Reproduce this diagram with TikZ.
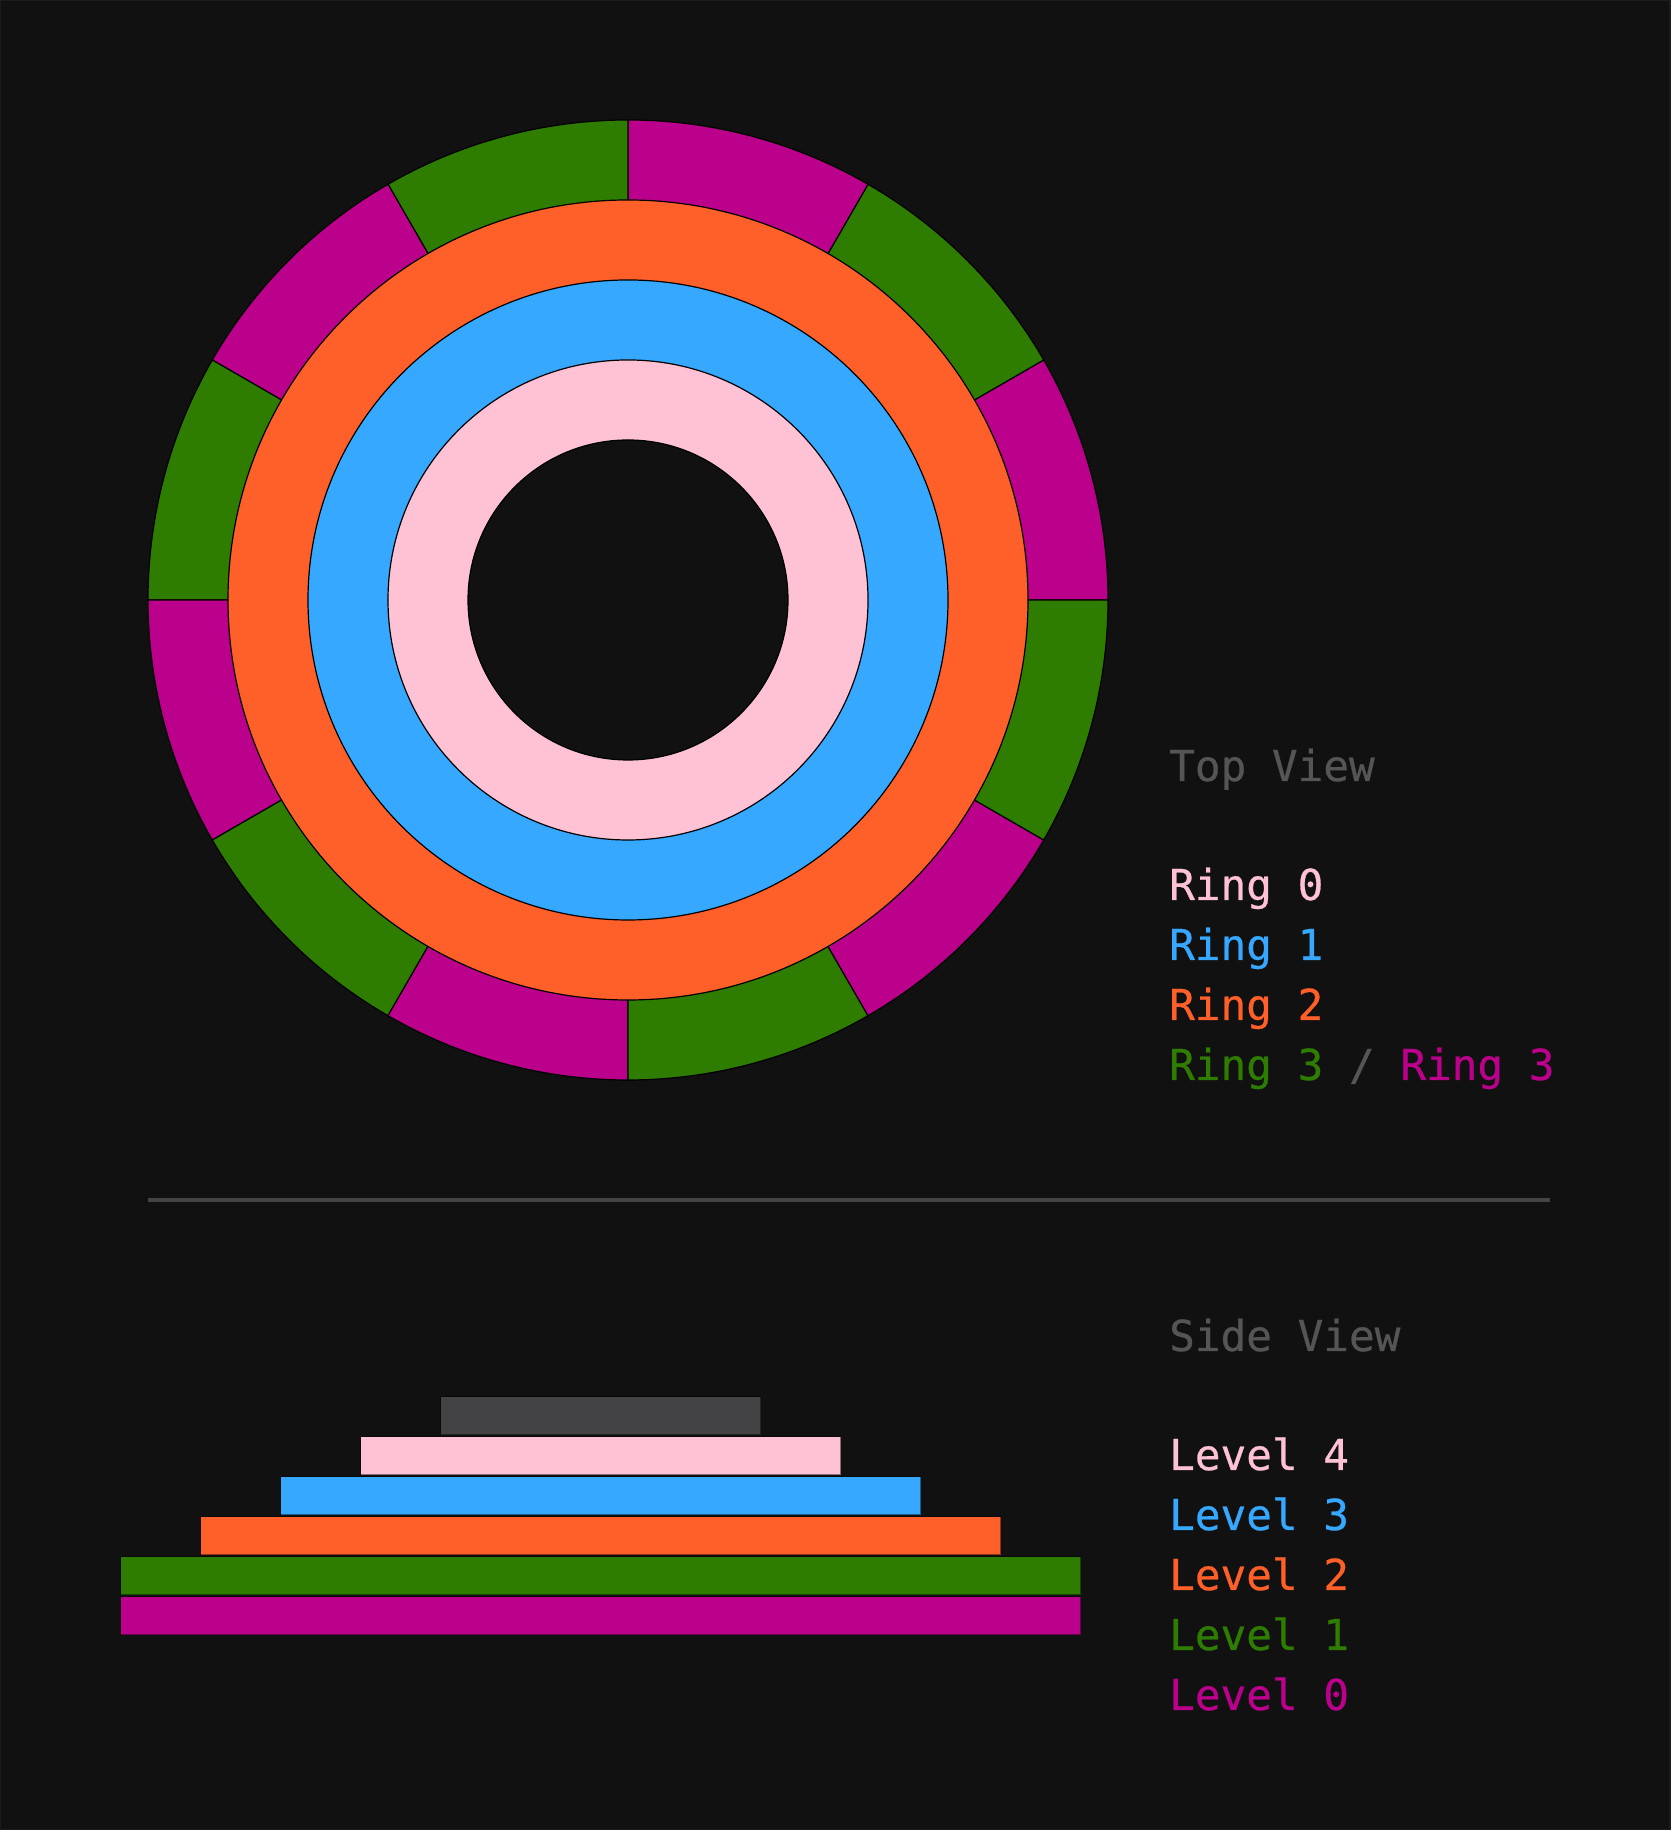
\documentclass[tikz,border=0pt]{standalone}
\usepackage{fontspec}
\setmonofont{DejaVu Sans Mono}[FakeBold=0.6]
\usepackage{xcolor}
\usepackage{tikz}

\definecolor{bgdark}{HTML}{111111}
\definecolor{edgegray}{HTML}{1C1C1C}
\definecolor{textgray}{HTML}{555555}
\definecolor{linegray}{HTML}{444444}
\definecolor{topgray}{HTML}{434345}
\definecolor{ringpink}{HTML}{FFC2D4}
\definecolor{ringblue}{HTML}{36A8FF}
\definecolor{ringorange}{HTML}{FF5F29}
\definecolor{ringgreen}{HTML}{2E7D00}
\definecolor{ringmagenta}{HTML}{BB008B}

\begin{document}
\begin{tikzpicture}[
			x=1pt, y=1pt,
			every node/.style={font=\ttfamily\fontsize{42.67}{60}\selectfont},
			legend/.style={anchor=base west, inner sep=0pt},
			seg/.style={draw=black, line width=1.2pt},
			bar/.style={draw=black, draw opacity=0.45, line width=1pt},
			divider/.style={draw=linegray, line width=4pt}
			]
			
			\useasboundingbox (0,0) rectangle (1670,1830);
			\filldraw[fill=bgdark, draw=edgegray, line width=2pt] (0,0) rectangle (1670,1830);
			
			% top view
			\coordinate (c) at (628,1230);
			\foreach \a/\col in {0/ringmagenta, 30/ringgreen, 60/ringmagenta, 90/ringgreen,
				120/ringmagenta, 150/ringgreen, 180/ringmagenta, 210/ringgreen,
				240/ringmagenta, 270/ringgreen, 300/ringmagenta, 330/ringgreen}
				\filldraw[seg, fill=\col] (c) -- ++(\a:480) arc[start angle=\a, end angle=\a+30, radius=480] -- cycle;
			\filldraw[seg, fill=ringorange] (c) circle[radius=400];
			\filldraw[seg, fill=ringblue] (c) circle[radius=320];
			\filldraw[seg, fill=ringpink] (c) circle[radius=240];
			\filldraw[seg, fill=bgdark] (c) circle[radius=160];
			
			\node[legend, text=textgray] (topview) at (1169,1049) {Top View};
			\node[legend, text=ringpink] (ring0) at (1169,930) {Ring 0};
			\node[legend, text=ringblue] (ring1) at (1169,870) {Ring 1};
			\node[legend, text=ringorange] (ring2) at (1169,810) {Ring 2};
			\node[legend] (ring3) at (1169,750) {\color{ringgreen}Ring 3 \color{textgray}/ \color{ringmagenta}Ring 3};
			
			\coordinate (divl) at (148,630);
			\coordinate (divr) at (1550,630);
			\draw[divider] (divl) -- (divr);
			
			% side view
			\filldraw[bar, fill=ringmagenta] (120.5,195) rectangle (1080.5,233);
			\filldraw[bar, fill=ringgreen] (120.5,235) rectangle (1080.5,273);
			\filldraw[bar, fill=ringorange] (200.5,275) rectangle (1000.5,313);
			\filldraw[bar, fill=ringblue] (280.5,315) rectangle (920.5,353);
			\filldraw[bar, fill=ringpink] (360.5,355) rectangle (840.5,393);
			\filldraw[bar, fill=topgray] (440.5,395) rectangle (760.5,433);
			
			\node[legend, text=textgray] (sideview) at (1169,479) {Side View};
			\node[legend, text=ringpink] (level4) at (1169,360) {Level 4};
			\node[legend, text=ringblue] (level3) at (1169,300) {Level 3};
			\node[legend, text=ringorange] (level2) at (1169,240) {Level 2};
			\node[legend, text=ringgreen] (level1) at (1169,180) {Level 1};
			\node[legend, text=ringmagenta] (level0) at (1169,120) {Level 0};
			
		\end{tikzpicture}
\end{document}
